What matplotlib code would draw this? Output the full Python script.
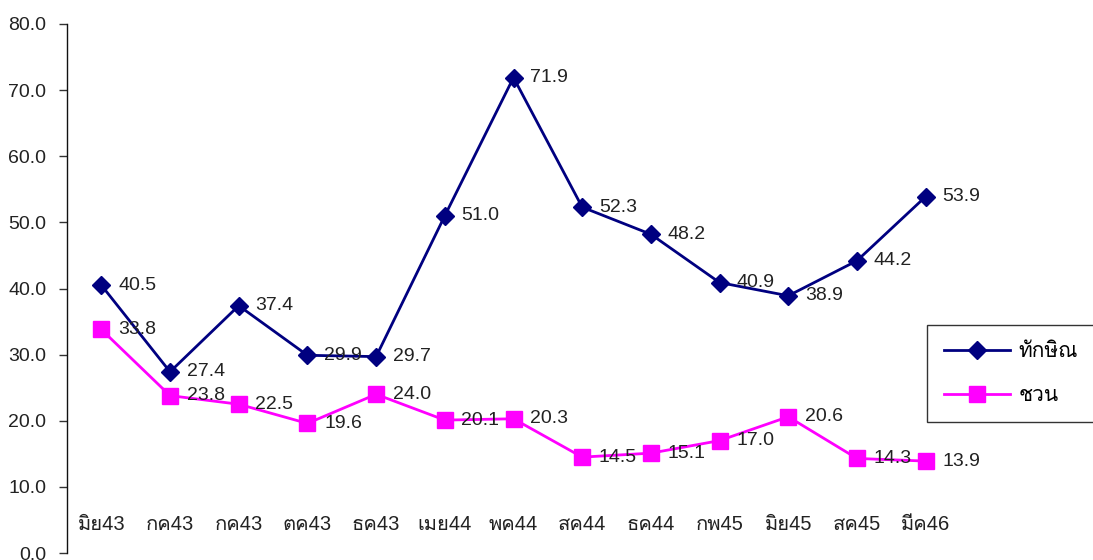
import matplotlib
matplotlib.use("Agg")
import matplotlib.pyplot as plt
from matplotlib import font_manager
from matplotlib.ft2font import FT2Font

categories = ["มิย43", "กค43", "กค43", "ตค43", "ธค43", "เมย44", "พค44",
              "สค44", "ธค44", "กพ45", "มิย45", "สค45", "มีค46"]
thaksin = [40.5, 27.4, 37.4, 29.9, 29.7, 51.0, 71.9, 52.3, 48.2, 40.9, 38.9, 44.2, 53.9]
chuan = [33.8, 23.8, 22.5, 19.6, 24.0, 20.1, 20.3, 14.5, 15.1, 17.0, 20.6, 14.3, 13.9]
series_names = ["ทักษิณ", "ชวน"]
yticks = [0, 10, 20, 30, 40, 50, 60, 70, 80]

# find a font with Thai glyphs
thai_font = None
for f in font_manager.fontManager.ttflist:
    try:
        ft = FT2Font(f.fname)
        if 0x0E17 in ft.get_charmap():
            thai_font = f.name
            break
    except Exception:
        pass
fams = ["Liberation Sans"] + ([thai_font] if thai_font else []) + ["DejaVu Sans"]
plt.rcParams['font.family'] = fams

fig = plt.figure(figsize=(10.93, 5.6), dpi=100)
ax = fig.add_axes([67/1093, 1-553/560, (960-67)/1093, (553-24)/560])
x = list(range(len(categories)))

ax.plot(x, thaksin, color="#000080", lw=2, marker="D", ms=9, label=series_names[0], clip_on=False)
ax.plot(x, chuan, color="#FF00FF", lw=2, marker="s", ms=11, label=series_names[1], clip_on=False)

txtc = "#222222"
for xi, v in zip(x, thaksin):
    ax.annotate(f"{v:.1f}", (xi, v), xytext=(12, 0), textcoords="offset points",
                va="center", ha="left", fontsize=14, color=txtc)
for xi, v in zip(x, chuan):
    ax.annotate(f"{v:.1f}", (xi, v), xytext=(12, 0), textcoords="offset points",
                va="center", ha="left", fontsize=14, color=txtc)

ax.set_xlim(-0.5, len(categories) - 0.5)
ax.set_ylim(0, 80)
ax.set_yticks(yticks)
ax.set_yticklabels([f"{t:.1f}" for t in yticks], fontsize=14, color=txtc)
ax.tick_params(axis="y", direction="out", length=6, width=1, color="#333333", pad=9)
ax.set_xticks(x)
ax.set_xticklabels(categories, fontsize=14.5, color=txtc)
ax.tick_params(axis="x", length=0, pad=-27)
for s in ["top", "right", "bottom"]:
    ax.spines[s].set_visible(False)
ax.spines["left"].set_color("#111111")
ax.spines["left"].set_linewidth(1)

leg = fig.legend(loc="upper left", bbox_to_anchor=(927/1093, 1-326/560, 0.3, 0.001),
                 mode="expand", fancybox=False, edgecolor="#333333", framealpha=1,
                 handlelength=3.2, handletextpad=0.4, labelspacing=1.2,
                 borderpad=0.8, borderaxespad=0, prop={"size": 15})
leg.get_frame().set_linewidth(1)

fig.savefig("out.png", dpi=100)
